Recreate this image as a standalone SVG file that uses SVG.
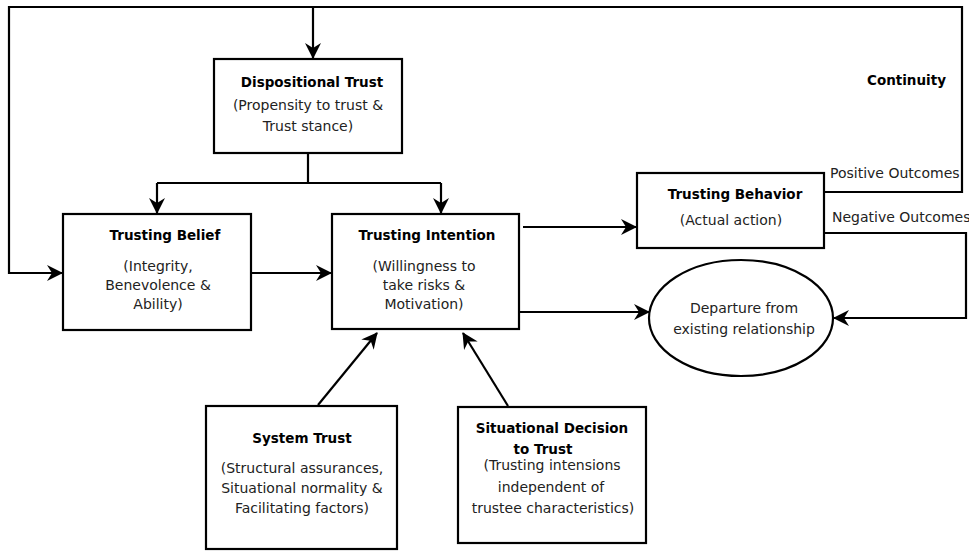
<svg xmlns="http://www.w3.org/2000/svg" width="969" height="552" viewBox="0 0 969 552">
<style>
.box{fill:#fff;stroke:#000;stroke-width:2.2}
.c{fill:none;stroke:#000;stroke-width:2.2}
.a{marker-end:url(#arr)}
text{font-family:"DejaVu Sans","Liberation Sans",sans-serif;font-size:14px;fill:#222;text-anchor:middle}
.b{font-weight:bold;font-size:13.5px;fill:#000}
.l{text-anchor:start}
</style>
<defs>
<marker id="arr" viewBox="0 0 16 16" markerWidth="16" markerHeight="16" refX="15" refY="8" orient="auto" markerUnits="userSpaceOnUse">
<path d="M0,0 L16,8 L0,16 L5,8 z" fill="#000"/>
</marker>
</defs>
<rect width="969" height="552" fill="#fff"/>
<g id="connectors">
<path class="c a" d="M824,192 H962 V7 H9 V273 H62"/>
<path class="c a" d="M313,8 V58"/>
<path class="c" d="M308,153 V183 M157,183 H441"/>
<path class="c a" d="M157,183 V213"/>
<path class="c a" d="M441,183 V213"/>
<path class="c a" d="M251,273 H331"/>
<path class="c a" d="M523,227 H636"/>
<path class="c a" d="M519,312 H649"/>
<path class="c a" d="M824,233 H966 V318 H834"/>
<path class="c a" d="M318,405 L377,333"/>
<path class="c a" d="M508,406 L463,333"/>
</g>
<g id="dispositional">
<rect class="box" x="214" y="59" width="188" height="94"/>
<text class="b" x="312" y="87">Dispositional Trust</text>
<text x="308" y="110">(Propensity to trust &amp;</text>
<text x="308" y="131">Trust stance)</text>
</g>
<g id="belief">
<rect class="box" x="63" y="214" width="188" height="116"/>
<text class="b" x="165" y="240">Trusting Belief</text>
<text x="158" y="271">(Integrity,</text>
<text x="158" y="290">Benevolence &amp;</text>
<text x="158" y="309">Ability)</text>
</g>
<g id="intention">
<rect class="box" x="332" y="214" width="187" height="115"/>
<text class="b" x="427" y="240">Trusting Intention</text>
<text x="424" y="271">(Willingness to</text>
<text x="424" y="290">take risks &amp;</text>
<text x="424" y="309">Motivation)</text>
</g>
<g id="behavior">
<rect class="box" x="637" y="173" width="187" height="75"/>
<text class="b" x="735" y="199">Trusting Behavior</text>
<text x="731" y="225">(Actual action)</text>
</g>
<g id="departure">
<ellipse class="box" cx="741" cy="318" rx="92" ry="58"/>
<text x="744" y="313">Departure from</text>
<text x="744" y="334">existing relationship</text>
</g>
<g id="system">
<rect class="box" x="206" y="406" width="191" height="143"/>
<text class="b" x="302" y="443">System Trust</text>
<text x="302" y="473">(Structural assurances,</text>
<text x="302" y="493">Situational normality &amp;</text>
<text x="302" y="513">Facilitating factors)</text>
</g>
<g id="situational">
<rect class="box" x="458" y="407" width="188" height="136"/>
<text class="b" x="552" y="433">Situational Decision</text>
<text class="b" x="543" y="454">to Trust</text>
<text x="552" y="470">(Trusting intensions</text>
<text x="551" y="492">independent of</text>
<text x="553" y="513">trustee characteristics)</text>
</g>
<g id="labels">
<text class="b l" x="867" y="85">Continuity</text>
<text class="l" x="830" y="178">Positive Outcomes</text>
<text class="l" x="832" y="222">Negative Outcomes</text>
</g>
</svg>
